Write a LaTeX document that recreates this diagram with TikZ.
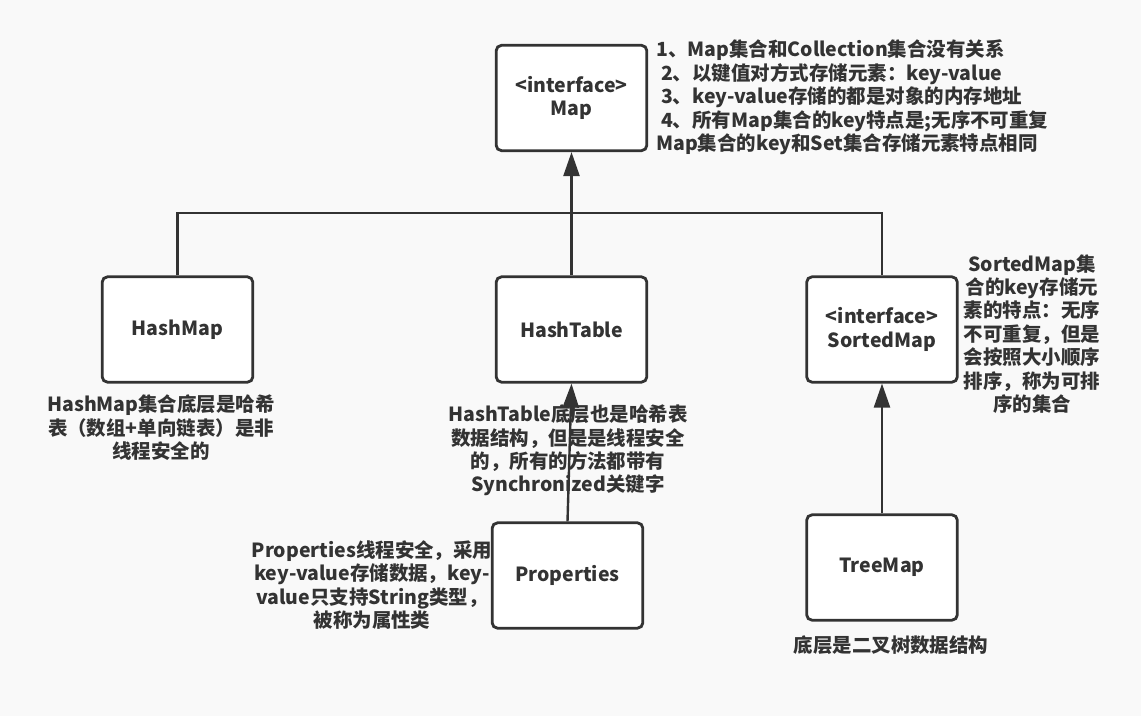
\documentclass[tikz,border=0pt]{standalone}
\usepackage{fontspec}
\setmainfont{Noto Sans CJK SC}
\usepackage{tikz}
\usetikzlibrary{arrows.meta, calc}
\usepackage{xcolor}
\definecolor{inkgray}{HTML}{333333}
\definecolor{paper}{HTML}{F9F9F9}

\begin{document}
\begin{tikzpicture}[x=0.75pt, y=-0.75pt, >={Triangle[length=18pt, width=12pt]},
  every node/.style={text=inkgray, font=\fontsize{14.6}{17.6}\selectfont\bfseries},
  box/.style={draw=inkgray, line width=2.1pt, fill=white, rounded corners=4pt, minimum width=113pt, minimum height=79pt, align=center},
  note/.style={align=center, inner sep=0pt},
  link/.style={draw=inkgray, line width=1.8pt}]
  \fill[paper] (0,0) rectangle (1141,716);
  % Boxes
  \node[box] (map) at (571.5,98) {<interface>\\Map};
  \node[box] (hashmap) at (177.5,329.5) {HashMap};
  \node[box] (hashtable) at (571.5,329.5) {HashTable};
  \node[box] (sortedmap) at (882,329.5) {<interface>\\SortedMap};
  \node[box] (props) at (567.5,575.5) {Properties};
  \node[box] (treemap) at (882,567.5) {TreeMap};
  \coordinate (join) at (571.5,213);
  % Notes
  \node[note, align=left, anchor=west] (mapnote) at (656,97.5)
    {1、Map集合和Collection集合没有关系\\
     \hspace*{0.25em}2、以键值对方式存储元素：key-value\\
     \hspace*{0.25em}3、key-value存储的都是对象的内存地址\\
     \hspace*{0.25em}4、所有Map集合的key特点是;无序不可重复\\
     Map集合的key和Set集合存储元素特点相同};
  \node[note] (hashmapnote) at (161,428)
    {HashMap集合底层是哈希\\表（数组+单向链表）是非\\线程安全的};
  \node[note] (hashtablenote) at (568,450.5)
    {HashTable底层也是哈希表\\数据结构，但是是线程安全\\的，所有的方法都带有\\Synchronized关键字};
  \node[note] (sortedmapnote) at (1032,334)
    {SortedMap集\\合的key存储元\\素的特点：无序\\不可重复，但是\\会按照大小顺序\\排序，称为可排\\序的集合};
  \node[note] (propsnote) at (372,585)
    {Properties线程安全，采用\\key-value存储数据，key-\\value只支持String类型，\\被称为属性类};
  \node[note] (treemapnote) at (891,645) {底层是二叉树数据结构};
  % Inheritance lines
  \path[link, ->] (hashmap.north) |- (join) -- (map.south);
  \path[link] (sortedmap.north) |- (join);
  \path[link] (hashtable.north) -- (join);
  \path[link, ->] (props.north) -- (hashtable.south);
  \path[link, ->] (treemap.north) -- (sortedmap.south);
\end{tikzpicture}
\end{document}
